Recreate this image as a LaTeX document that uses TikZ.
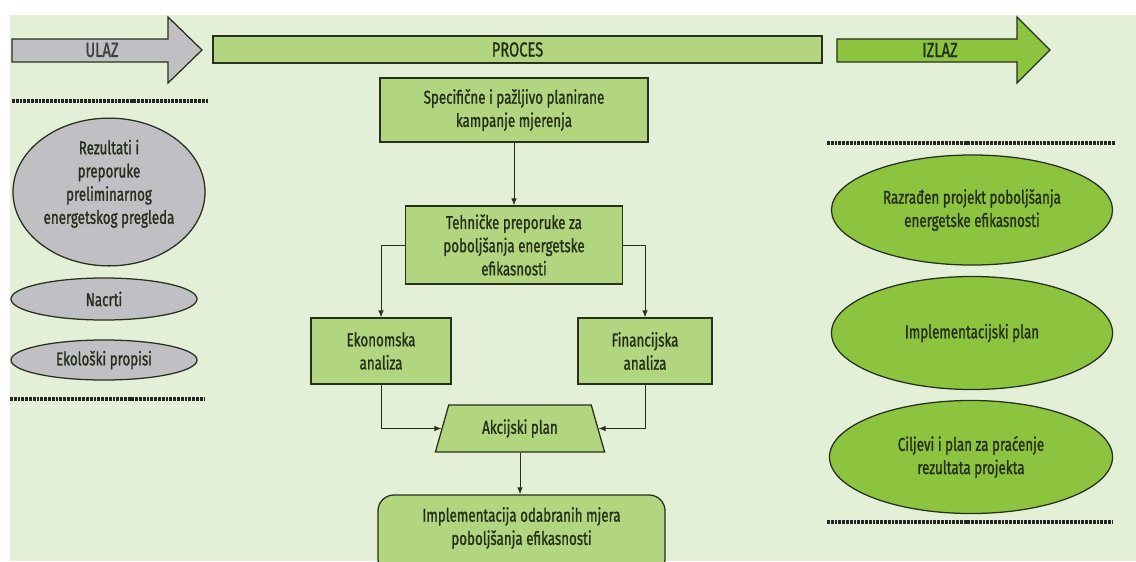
\documentclass[tikz,border=0pt]{standalone}
\usepackage{fontspec}
\setmainfont[FakeStretch=0.72,FakeBold=1.2]{Fira Sans}
\usetikzlibrary{shapes.geometric,arrows.meta}

\definecolor{bgGreen}{RGB}{228,239,216}
\definecolor{boxGreen}{RGB}{178,214,128}
\definecolor{outGreen}{RGB}{140,196,64}
\definecolor{inGray}{RGB}{192,192,196}
\definecolor{edgeCol}{RGB}{40,48,30}
\definecolor{inkCol}{RGB}{38,46,28}

\begin{document}
\begin{tikzpicture}[x=0.025cm,y=-0.025cm,
    every node/.style={font=\fontsize{13.2}{16.5}\selectfont,text=inkCol},
    head/.style={font=\fontsize{14.5}{16}\selectfont},
    box/.style={draw=edgeCol,fill=boxGreen,line width=0.9pt,align=center,inner sep=0pt},
    inell/.style={ellipse,draw=edgeCol,fill=inGray,line width=0.9pt,align=center,inner sep=0pt},
    outell/.style={ellipse,draw=edgeCol,fill=outGreen,line width=0.9pt,align=center,inner sep=0pt},
    conn/.style={draw=edgeCol,line width=0.7pt,-{Latex[length=5pt,width=4pt]}},
    dots/.style={draw=black!85,line width=2.2pt,dash pattern=on 2pt off 0.7pt}]
    \useasboundingbox (0,0) rectangle (1136,561);
    \fill[bgGreen] (10,15) rectangle (1136,561);

    % header
    \draw[draw=edgeCol,fill=inGray,line width=0.9pt] (12,39) -- (168,39) -- (168,17) -- (202,50)
        -- (168,83) -- (168,62) -- (12,62) -- cycle;
    \node[head,text=black!75] (ulaz) at (102,50) {ULAZ};
    \node[box,head,minimum width=15.225cm,minimum height=0.675cm] (proces) at (517.5,49.5) {PROCES};
    \draw[draw=edgeCol,fill=outGreen,line width=0.9pt] (837,39) -- (1017,39) -- (1017,17) -- (1050,50)
        -- (1017,83) -- (1017,62) -- (837,62) -- cycle;
    \node[head] (izlaz) at (940,50) {IZLAZ};

    % ulaz
    \draw[dots] (12,101) -- (208,101);
    \node[inell,minimum width=4.8cm,minimum height=3.15cm] (rez) at (109,192)
        {Rezultati i\\preporuke\\preliminarnog\\energetskog pregleda\\[-2pt]\mbox{}};
    \node[inell,minimum width=4.65cm,minimum height=1.05cm] (nacrti) at (104,299) {Nacrti};
    \node[inell,minimum width=4.65cm,minimum height=1.0cm] (propisi) at (104,360) {Ekološki propisi};
    \draw[dots] (10,399) -- (205,399);

    % proces
    \node[box,minimum width=6.7cm,minimum height=1.6cm] (spec) at (514,110)
        {Specifične i pažljivo planirane\\kampanje mjerenja};
    \node[box,minimum width=5.425cm,minimum height=1.95cm] (teh) at (514,245)
        {Tehničke preporuke za\\poboljšanja energetske\\efikasnosti};
    \node[box,minimum width=3.5cm,minimum height=1.65cm] (eko) at (381,351) {Ekonomska\\analiza};
    \node[box,minimum width=3.35cm,minimum height=1.65cm] (fin) at (645,351) {Financijska\\analiza};
    \node[box,trapezium,trapezium angle=69,trapezium stretches=true,
        minimum width=4.25cm,minimum height=1.175cm] (akc) at (520,428.5) {Akcijski plan};
    \node[box,rounded corners=0.4cm,minimum width=7.175cm,minimum height=2.0cm] (impl) at (521.5,535) {};
    \node[align=center] (impltxt) at (521.5,528) {Implementacija odabranih mjera\\poboljšanja efikasnosti};

    \draw[conn] (spec) -- (teh);
    \draw[conn] (teh.west) -| (eko);
    \draw[conn] (teh.east) -| (fin);
    \draw[conn] (eko) |- (akc);
    \draw[conn] (fin) |- (akc);
    \draw[conn] (akc.south) -- (akc.south |- impl.north);

    % izlaz
    \draw[dots] (827,143) -- (1115,143);
    \node[outell,minimum width=7.025cm,minimum height=2.75cm] (razraden) at (972,210)
        {Razrađen projekt poboljšanja\\energetske efikasnosti};
    \node[outell,minimum width=7.025cm,minimum height=2.825cm] (implan) at (972,333)
        {Implementacijski plan};
    \node[outell,minimum width=7.075cm,minimum height=2.825cm] (ciljevi) at (971,457)
        {Ciljevi i plan za praćenje\\rezultata projekta};
    \draw[dots] (827,522) -- (1113,522);
\end{tikzpicture}
\end{document}
